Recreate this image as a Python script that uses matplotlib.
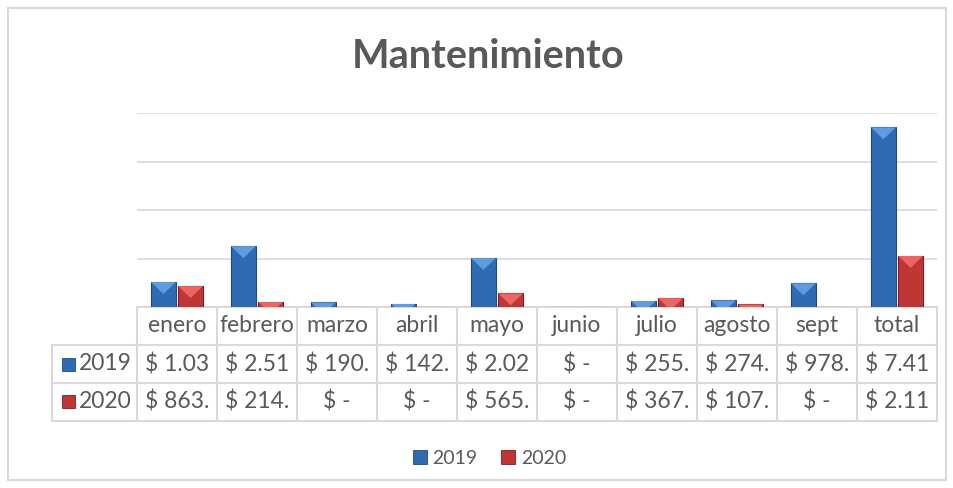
import numpy as np
import matplotlib
matplotlib.use('Agg')
import matplotlib.pyplot as plt
from matplotlib.patches import Rectangle, Polygon, Patch
from matplotlib.transforms import blended_transform_factory

plt.rcParams['font.family'] = ['Lato', 'DejaVu Sans']

# datos
meses = ['enero', 'febrero', 'marzo', 'abril', 'mayo', 'junio',
         'julio', 'agosto', 'sept', 'total']
v2019 = [1030000, 2510000, 190000, 142000, 2020000, 0,
         255000, 274000, 978000, 7410000]
v2020 = [863000, 214000, 0, 0, 565000, 0,
         367000, 107000, 0, 2110000]
txt2019 = ['$ 1.03', '$ 2.51', '$ 190.', '$ 142.', '$ 2.02', '$ -',
           '$ 255.', '$ 274.', '$ 978.', '$ 7.41']
txt2020 = ['$ 863.', '$ 214.', '$ -', '$ -', '$ 565.', '$ -',
           '$ 367.', '$ 107.', '$ -', '$ 2.11']
series = ['2019', '2020']

W, H = 954, 488
GRIS = '#595959'
LINEA = '#D9D9D9'
colores = {'2019': ('#2E6BB2', '#5E9BE0', '#1D4A80'),
           '2020': ('#C03636', '#EC6464', '#7E1C1C')}

fig = plt.figure(figsize=(W / 100, H / 100), dpi=100)
ax = fig.add_axes([137 / W, 1 - 307 / H, 800 / W, 194 / H])

x = np.arange(len(meses))
bw, off = 0.31, 0.17
ymax = 8e6
px_y = ymax / 194  # data units per pixel

for serie, vals, dx in [('2019', v2019, -off), ('2020', v2020, off)]:
    cara, luz, borde = colores[serie]
    bars = ax.bar(x + dx, vals, bw, color=cara, edgecolor=borde, lw=0.8, zorder=3)
    for b in bars:
        h = b.get_height()
        if h <= 0:
            continue
        x0, w = b.get_x(), b.get_width()
        d = 12 * px_y
        tri = Polygon([(x0, h), (x0 + w, h), (x0 + w / 2, h - d)],
                      closed=True, fc=luz, ec='none', zorder=4)
        ax.add_patch(tri)
        tri.set_clip_path(b)

ax.set_xlim(-0.5, len(meses) - 0.5)
ax.set_ylim(0, ymax)
ax.set_yticks(np.arange(0, ymax + 1, 2e6))
ax.yaxis.grid(True, color=LINEA, lw=1.2)
ax.set_axisbelow(True)
ax.tick_params(left=False, bottom=False, labelleft=False, labelbottom=False)
for s in ax.spines.values():
    s.set_visible(False)

# tabla de datos
tr = blended_transform_factory(ax.transData, ax.transAxes)
rh = 38 / 194
xl = -0.5 - 85 / 80
xr = len(meses) - 0.5
kw = dict(transform=tr, clip_on=False, color=LINEA, lw=1.5)
ax.plot([-0.5, xr], [0, 0], **kw)
for r in (1, 2, 3):
    ax.plot([xl, xr], [-r * rh, -r * rh], **kw)
for k in range(len(meses) + 1):
    ax.plot([k - 0.5, k - 0.5], [0, -3 * rh], **kw)
ax.plot([xl, xl], [-rh, -3 * rh], **kw)

fs = 16.5
for i, m in enumerate(meses):
    ax.text(i, -0.5 * rh, m, transform=tr, ha='center', va='center',
            fontsize=fs, color=GRIS)
    ax.text(i, -1.5 * rh, txt2019[i], transform=tr, ha='center', va='center',
            fontsize=fs, color=GRIS)
    ax.text(i, -2.5 * rh, txt2020[i], transform=tr, ha='center', va='center',
            fontsize=fs, color=GRIS)

for r, serie in enumerate(series, start=1):
    cara, luz, borde = colores[serie]
    yc = -(r + 0.5) * rh
    ax.add_patch(Rectangle((xl + 10 / 80, yc - 6.5 / 194), 13 / 80, 13 / 194,
                           transform=tr, clip_on=False, fc=cara, ec=borde, lw=0.6))
    ax.text(xl + 27 / 80, yc, serie, transform=tr, ha='left', va='center',
            fontsize=fs, color=GRIS)

# leyenda
handles = [Patch(fc=colores[s][0], ec=colores[s][2], lw=0.6, label=s) for s in series]
fig.legend(handles=handles, loc='center', bbox_to_anchor=(0.513, 1 - 458 / H),
           ncol=2, frameon=False, fontsize=14, labelcolor=GRIS,
           handlelength=0.72, handleheight=0.72, handletextpad=0.3, columnspacing=1.2)

# titulo y borde
fig.text(488 / W, 1 - 56 / H, 'Mantenimiento', ha='center', va='center',
         fontsize=28.5, fontweight='bold', color=GRIS)
fig.patches.append(Rectangle((8 / W, 8 / H), 938 / W, 472 / H, transform=fig.transFigure,
                             fill=False, ec=LINEA, lw=1.5))

fig.savefig('out.png', dpi=100)
